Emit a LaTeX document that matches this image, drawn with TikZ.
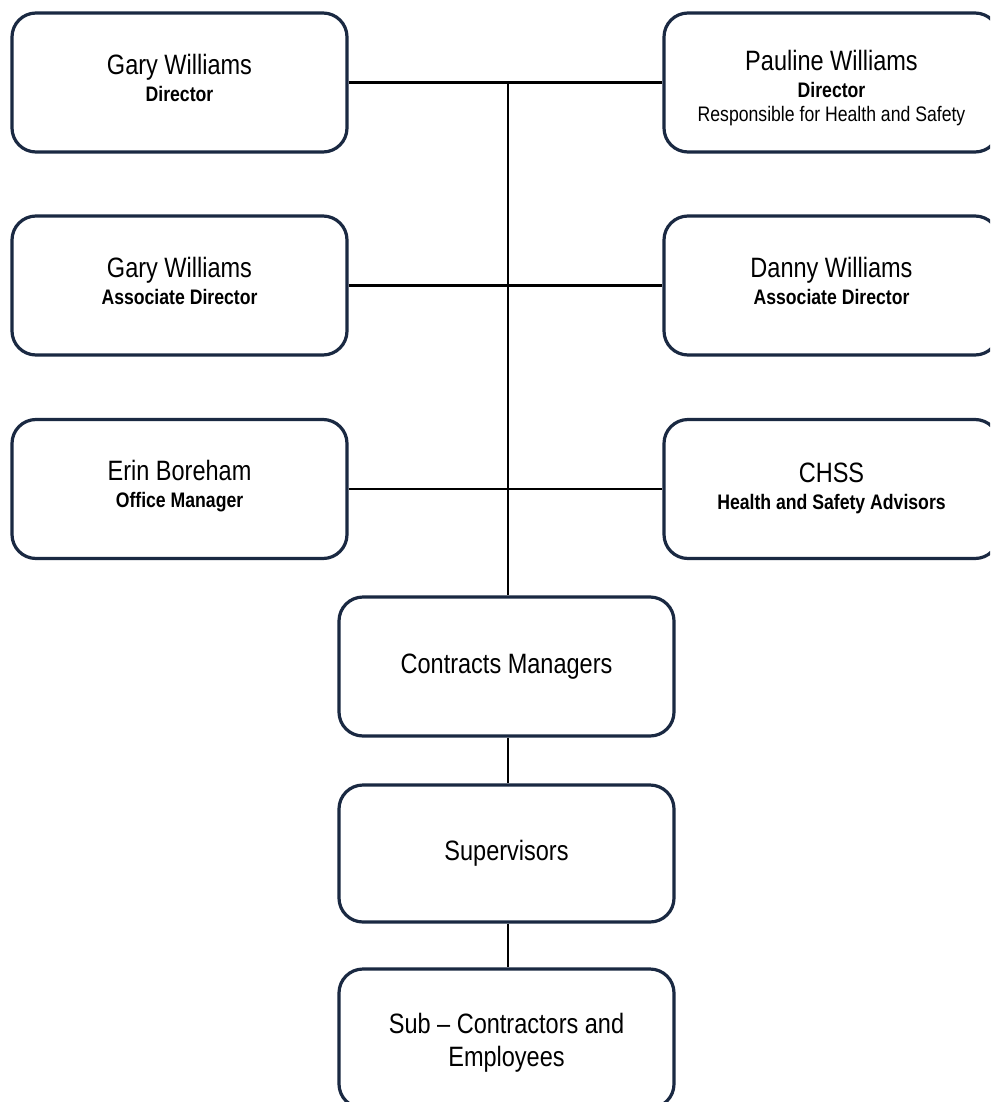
\documentclass[tikz,border=0pt]{standalone}
\usepackage{fontspec}
\setmainfont{Liberation Sans}[FakeStretch=0.84]
\usepackage{tikz}
\definecolor{boxnavy}{RGB}{26,41,66}

\newcommand{\nm}[1]{{\fontsize{14}{15}\selectfont #1}}
\newcommand{\rl}[1]{{\fontsize{10.5}{11.5}\selectfont\bfseries #1}}
\newcommand{\sm}[1]{{\fontsize{10.5}{11.5}\selectfont #1}}
\newcommand{\lift}{\rule[-5pt]{0pt}{5pt}}

\begin{document}
\begin{tikzpicture}[x=0.5pt,y=-0.5pt,
    orgbox/.style={draw=boxnavy, line width=1.6pt, rounded corners=12pt,
      minimum width=167.5pt, minimum height=69.5pt, align=center,
      inner sep=0pt, fill=white},
    link/.style={line width=1.3pt}]
    % Page area
    \clip (0,0) rectangle (990,1102);
    \fill[white] (0,0) rectangle (990,1102);

    % Directors
    \node[orgbox] (gwdir) at (179.5,82.5) {\nm{Gary Williams}\\[1.5pt] \rl{Director}\lift};
    \node[orgbox] (pwdir) at (831.5,82.5) {\rule{0pt}{16pt}\nm{Pauline Williams}\\[1.5pt] \rl{Director}\\ \sm{Responsible for Health and Safety}};

    % Associate directors
    \node[orgbox] (gwassoc) at (179.5,285.5) {\nm{Gary Williams}\\[1.5pt] \rl{Associate Director}\lift};
    \node[orgbox] (dwassoc) at (831.5,285.5) {\nm{Danny Williams}\\[1.5pt] \rl{Associate Director}\lift};

    % Office and advisors
    \node[orgbox] (ebom) at (179.5,489) {\nm{Erin Boreham}\\[1.5pt] \rl{Office Manager}\lift};
    \node[orgbox] (chss) at (831.5,489) {\nm{CHSS}\\[1.5pt] \rl{Health and Safety Advisors}\rule[-3pt]{0pt}{3pt}};

    % Site chain
    \node[orgbox] (cmgr) at (506.5,666.5) {\nm{Contracts Managers}};
    \node[orgbox, minimum height=68.5pt] (supv) at (506.5,853.5) {\nm{Supervisors}};
    \node[orgbox, font=\fontsize{14}{16.5}\selectfont] (subc) at (506.5,1038.5) {\rule{0pt}{14pt}Sub -- Contractors and\\ Employees};

    % Connectors
    \draw[link] (gwdir.east) -- (pwdir.west);
    \draw[link] (gwassoc.east) -- (dwassoc.west);
    \draw[link] (ebom.east) -- (chss.west);
    \coordinate (trunk) at ([xshift=0.75pt]cmgr.north |- gwdir.east);
    \draw[link] (trunk) -- ([xshift=0.75pt]cmgr.north);
    \draw[link] ([xshift=0.75pt]cmgr.south) -- ([xshift=0.75pt]supv.north);
    \draw[link] ([xshift=0.75pt]supv.south) -- ([xshift=0.75pt]subc.north);
\end{tikzpicture}
\end{document}
